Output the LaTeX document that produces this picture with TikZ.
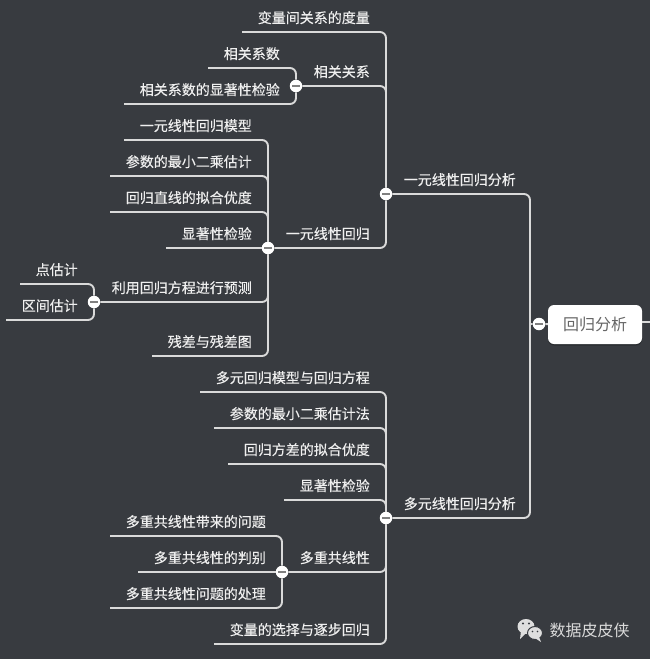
\documentclass[tikz,border=0pt]{standalone}
\usepackage{fontspec}
\setmainfont{Noto Sans CJK SC}
\newfontfamily\lblfont[FakeBold=0.3]{Noto Sans CJK SC}
\usetikzlibrary{shadows,calc}
\definecolor{bgc}{HTML}{383B40}
\definecolor{linec}{HTML}{DADADA}
\definecolor{txtc}{HTML}{EFEFEF}
\definecolor{rootc}{HTML}{666666}
\definecolor{barc}{HTML}{808080}
\tikzset{
  lbl/.style={anchor=east,inner sep=0pt,text=txtc,font=\lblfont\fontsize{14pt}{14pt}\selectfont,text height=10.5pt,text depth=2.5pt,yshift=-1pt},
  conn/.style={draw=linec,line width=1.9pt,rounded corners=6pt},
  fold/.style={circle,fill=white,minimum size=12.5pt,inner sep=0pt,
    path picture={\fill[barc] ($(path picture bounding box.center)+(-4pt,-1.2pt)$) rectangle ($(path picture bounding box.center)+(4pt,1.2pt)$);}},
  rootbox/.style={rounded corners=6pt,fill=white,minimum width=94pt,minimum height=39pt,inner sep=0pt,text=rootc,font=\fontsize{16pt}{16pt}\selectfont,drop shadow={shadow xshift=0pt,shadow yshift=-1.5pt,opacity=.25,fill=black}},
  logoink/.style={fill=linec!90!white},
  brand/.style={anchor=west,inner sep=0pt,text=linec,font=\fontsize{16pt}{16pt}\selectfont}
}
\begin{document}
\begin{tikzpicture}[x=1pt,y=-1pt]
\fill[bgc] (0,0) rectangle (650,659);
\useasboundingbox (0,0) rectangle (650,659);
% root
\node[rootbox] (root) at (595,324.5) {回归分析};
\coordinate (rootout) at (650,322);
\draw[conn] (root.east |- rootout) -- (rootout);
% fold circles
\node[fold] (froot) at (539,324) {};
\node[fold] (fone) at (386,194) {};
\node[fold] (fmulti) at (386,518) {};
\node[fold] (fcorr) at (296,86) {};
\node[fold] (fsimple) at (268,248) {};
\node[fold] (fpred) at (94,302) {};
\node[fold] (fcol) at (282,572) {};
\coordinate (rjoin) at (530,324);
% level 1
\draw[conn] (rjoin) -- (froot) -- (root);
\draw[conn] (fone) -| (rjoin);
\draw[conn] (fmulti) -| (rjoin);
\node[lbl] (tone) at (516,180) {一元线性回归分析};
\node[lbl] (tmulti) at (516,504) {多元线性回归分析};
% upper branch
\coordinate (s1) at (242,32);
\node[lbl] (t1) at (370,18) {变量间关系的度量};
\draw[conn] (s1) -| (fone);
\node[lbl] (t2) at (370,72) {相关关系};
\draw[conn] (fcorr) -| (fone);
\node[lbl] (t3) at (370,234) {一元线性回归};
\draw[conn] (fsimple) -| (fone);
% correlation
\coordinate (s4) at (208,68);
\node[lbl] (t4) at (280,54) {相关系数};
\draw[conn] (s4) -| (fcorr);
\coordinate (s5) at (124,104);
\node[lbl] (t5) at (280,90) {相关系数的显著性检验};
\draw[conn] (s5) -| (fcorr);
% simple regression
\coordinate (s6) at (124,140);
\node[lbl] (t6) at (252,126) {一元线性回归模型};
\draw[conn] (s6) -| (fsimple);
\coordinate (s7) at (110,176);
\node[lbl] (t7) at (252,162) {参数的最小二乘估计};
\draw[conn] (s7) -| (fsimple);
\coordinate (s8) at (110,212);
\node[lbl] (t8) at (252,198) {回归直线的拟合优度};
\draw[conn] (s8) -| (fsimple);
\coordinate (s9) at (166,248);
\node[lbl] (t9) at (252,234) {显著性检验};
\draw[conn] (s9) -- (fsimple);
\node[lbl] (t10) at (252,288) {利用回归方程进行预测};
\draw[conn] (fpred) -| (fsimple);
\coordinate (s11) at (152,356);
\node[lbl] (t11) at (252,342) {残差与残差图};
\draw[conn] (s11) -| (fsimple);
% prediction
\coordinate (s12) at (20,284);
\node[lbl] (t12) at (78,270) {点估计};
\draw[conn] (s12) -| (fpred);
\coordinate (s13) at (6,320);
\node[lbl] (t13) at (78,306) {区间估计};
\draw[conn] (s13) -| (fpred);
% multiple regression
\coordinate (s14) at (200,392);
\node[lbl] (t14) at (370,378) {多元回归模型与回归方程};
\draw[conn] (s14) -| (fmulti);
\coordinate (s15) at (214,428);
\node[lbl] (t15) at (370,414) {参数的最小二乘估计法};
\draw[conn] (s15) -| (fmulti);
\coordinate (s16) at (228,464);
\node[lbl] (t16) at (370,450) {回归方差的拟合优度};
\draw[conn] (s16) -| (fmulti);
\coordinate (s17) at (284,500);
\node[lbl] (t17) at (370,486) {显著性检验};
\draw[conn] (s17) -| (fmulti);
\node[lbl] (t18) at (370,558) {多重共线性};
\draw[conn] (fcol) -| (fmulti);
\coordinate (s19) at (214,644);
\node[lbl] (t19) at (370,630) {变量的选择与逐步回归};
\draw[conn] (s19) -| (fmulti);
% collinearity
\coordinate (s20) at (110,536);
\node[lbl] (t20) at (266,522) {多重共线性带来的问题};
\draw[conn] (s20) -| (fcol);
\coordinate (s21) at (138,572);
\node[lbl] (t21) at (266,558) {多重共线性的判别};
\draw[conn] (s21) -- (fcol);
\coordinate (s22) at (110,608);
\node[lbl] (t22) at (266,594) {多重共线性问题的处理};
\draw[conn] (s22) -| (fcol);
% brand
\fill[logoink] (526,626.5) ellipse (8.5pt and 7.5pt);
\fill[logoink] (521,631) -- (520,639) -- (527,632) -- cycle;
\fill[bgc] (523,623.5) circle (1.1pt) (529,623.5) circle (1.1pt);
\fill[logoink,draw=bgc,line width=1pt] (535,633) ellipse (7.5pt and 6.5pt);
\fill[logoink] (539,637) -- (541,642) -- (535,638) -- cycle;
\fill[bgc] (532.5,631.5) circle (.9pt) (537.5,631.5) circle (.9pt);
\node[brand] (logo) at (549.5,630) {数据皮皮侠};
\end{tikzpicture}
\end{document}
